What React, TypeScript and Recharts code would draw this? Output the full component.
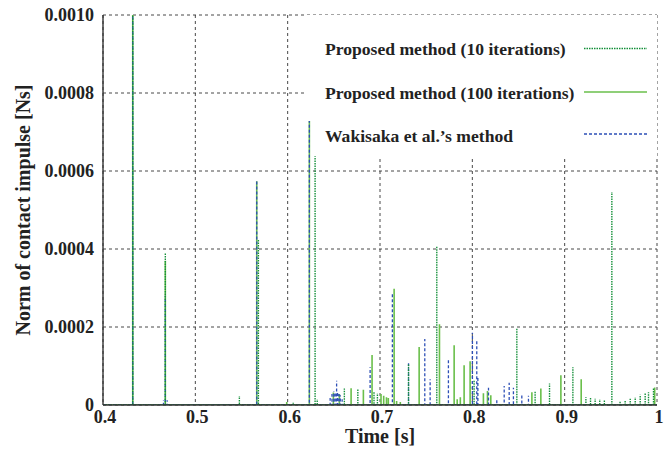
import { CartesianGrid, Line, LineChart, ReferenceArea, XAxis, YAxis } from "recharts";

const FONT = '"Liberation Serif", "Times New Roman", serif';
const INK = "#222";

const xTicks = [0.4, 0.5, 0.6, 0.7, 0.8, 0.9, 1];
const yTicks = [0, 0.0002, 0.0004, 0.0006, 0.0008, 0.001];

const legendLabels = [
  "Proposed method (10 iterations)",
  "Proposed method (100 iterations)",
  "Wakisaka et al.\u2019s method",
];

// Proposed method, 10 iterations (impulse times [s] / norms [Ns])
const iter10Times = [
  0.4322, 0.4675, 0.5477, 0.5683, 0.606, 0.6297, 0.632, 0.6614, 0.676, 0.6935,
  0.6972, 0.7309, 0.7615, 0.8019, 0.8482, 0.868, 0.8836, 0.9089, 0.923, 0.928,
  0.933, 0.938, 0.943, 0.9511, 0.96, 0.9655, 0.971, 0.9764, 0.9818, 0.9872,
  0.9908, 0.9962,
];
const iter10Values = [
  0.0012, 0.00039, 0.000023, 0.000425, 0.000008, 0.000638, 0.000015, 0.000042,
  0.00004, 0.000033, 0.00003, 0.000105, 0.000408, 0.000062, 0.000198, 0.000036,
  0.000055, 0.000097, 0.00002, 0.000018, 0.000016, 0.000015, 0.000012, 0.000546,
  0.0000085, 0.000012, 0.000016, 0.00002, 0.000026, 0.000031, 0.000033, 0.000043,
];

// Proposed method, 100 iterations
const iter100Times = [
  0.4322, 0.4675, 0.5665, 0.599, 0.6235, 0.6495, 0.656, 0.6687, 0.682, 0.6914,
  0.7011, 0.704, 0.707, 0.709, 0.7153, 0.718, 0.722, 0.7424, 0.7644, 0.7803,
  0.7836, 0.787, 0.7911, 0.7976, 0.812, 0.8164, 0.82, 0.8645, 0.8742, 0.8959,
  0.9179, 0.9975,
];
const iter100Values = [
  0.0012, 0.00037, 0.000574, 0.000008, 0.000728, 0.000032, 0.000028, 0.000043,
  0.000039, 0.000128, 0.000028, 0.000024, 0.00002, 0.000018, 0.000298, 0.00001,
  0.000008, 0.000149, 0.000207, 0.000153, 0.000015, 0.00002, 0.000102, 0.000112,
  0.00003, 0.000036, 0.000025, 0.000033, 0.000042, 0.000076, 0.000066, 0.000045,
];

// Wakisaka et al.'s method
const wakisakaTimes = [
  0.4322, 0.4655, 0.4675, 0.4695, 0.5665, 0.6235, 0.646, 0.648, 0.65, 0.6515,
  0.653, 0.654, 0.6555, 0.657, 0.659, 0.6893, 0.7134, 0.7309, 0.7485, 0.7543,
  0.7741, 0.8001, 0.8048, 0.806, 0.8175, 0.8265, 0.8345, 0.8399, 0.8445, 0.8536,
  0.8608,
];
const wakisakaValues = [
  0.0012, 0.000012, 0.00028, 0.000012, 0.000574, 0.000728, 0.000018, 0.000028,
  0.000035, 0.00003, 0.000062, 0.000032, 0.000028, 0.000025, 0.000015, 0.000097,
  0.000284, 0.00011, 0.000169, 0.000066, 0.000117, 0.000185, 0.000165, 0.00007,
  0.000044, 0.000015, 0.000049, 0.000057, 0.000044, 0.000028, 0.000024,
];

// opaque key box (gnuplot style) hides the grid behind the legend
const KEY_BOX = { t0: 0.619, t1: 1, v0: 0.000633, v1: 0.001 };

interface Pt {
  t: number;
  v: number | null;
}

/**
 * Each impulse is a vertical stroke rising from the zero baseline. A null
 * after the peak lifts the pen so the stroke isn't retraced on the way down
 * (retracing would fill in the dash pattern).
 */
function impulses(times: number[], values: number[]): Pt[] {
  const pts: Pt[] = [{ t: 0.4, v: 0 }];
  times.forEach((t, i) => {
    pts.push({ t, v: 0 }, { t, v: values[i] }, { t, v: null }, { t, v: 0 });
  });
  pts.push({ t: 1, v: 0 });
  return pts;
}

const iter10Data = impulses(iter10Times, iter10Values);
const iter100Data = impulses(iter100Times, iter100Values);
const wakisakaData = impulses(wakisakaTimes, wakisakaValues);

const STYLES = [
  { stroke: "#15903a", dash: "1.5 1", width: 1.4 },
  { stroke: "#6abf4b", dash: undefined, width: 1.6 },
  { stroke: "#2d4fb6", dash: "3 2", width: 1.3 },
];

const TICK = { fill: INK, fontSize: 18, fontWeight: 700, fontFamily: FONT } as const;
const TITLE = { fill: INK, fontSize: 20, fontWeight: 700, fontFamily: FONT } as const;

function XTitle(props: any) {
  const { x, y, width } = props.viewBox;
  return (
    <text x={x + width / 2} y={y + 38} textAnchor="middle" {...TITLE}>
      Time [s]
    </text>
  );
}

function YTitle(props: any) {
  const { y, height } = props.viewBox;
  const cx = 30;
  const cy = y + height / 2;
  return (
    <text x={cx} y={cy} textAnchor="middle" transform={`rotate(-90 ${cx} ${cy})`} {...TITLE}>
      Norm of contact impulse [Ns]
    </text>
  );
}

function Key() {
  const rows = [55, 99, 142];
  const lineY = [48.5, 92, 134];
  return (
    <svg
      width={670}
      height={450}
      style={{ position: "absolute", left: 0, top: 0, pointerEvents: "none" }}
    >
      {legendLabels.map((label, i) => (
        <g key={label}>
          <text x={325} y={rows[i]} fill={INK} fontSize={17.6} fontWeight={700} fontFamily={FONT}>
            {label}
          </text>
          <line
            x1={584}
            x2={647}
            y1={lineY[i]}
            y2={lineY[i]}
            stroke={STYLES[i].stroke}
            strokeWidth={STYLES[i].width}
            strokeDasharray={STYLES[i].dash}
          />
        </g>
      ))}
    </svg>
  );
}

export default function App() {
  return (
    <div style={{ position: "absolute", left: 0, top: 0, width: 670, height: 450, background: "#fff" }}>
      <LineChart width={670} height={450} margin={{ top: 15, right: 13, bottom: 0, left: 0 }}>
        <CartesianGrid stroke="#333" strokeWidth={0.9} strokeDasharray="3 3" />
        <ReferenceArea
          x1={KEY_BOX.t0}
          x2={KEY_BOX.t1}
          y1={KEY_BOX.v0}
          y2={KEY_BOX.v1}
          fill="#fff"
          fillOpacity={1}
          stroke="none"
        />
        <XAxis
          dataKey="t"
          type="number"
          domain={[0.4, 1]}
          ticks={xTicks}
          allowDataOverflow
          height={45}
          tick={{ ...TICK, dx: 2 }}
          tickFormatter={(v: number) => (v === 1 ? "1" : v.toFixed(1))}
          tickLine={false}
          tickSize={4}
          tickMargin={1}
          axisLine={{ stroke: "#333", strokeWidth: 1.4 }}
          label={XTitle}
        />
        <XAxis
          xAxisId="top"
          orientation="top"
          type="number"
          domain={[0.4, 1]}
          ticks={xTicks}
          height={0}
          mirror
          tickSize={5}
          tick={TICK}
          tickFormatter={() => ""}
          tickLine={{ stroke: "#333" }}
          axisLine={{ stroke: "#333", strokeWidth: 1.4 }}
        />
        <YAxis
          type="number"
          domain={[0, 0.001]}
          ticks={yTicks}
          allowDataOverflow
          width={103}
          tick={TICK}
          tickFormatter={(v: number) => (v === 0 ? "0" : v.toFixed(4))}
          tickLine={false}
          tickSize={6}
          tickMargin={3}
          axisLine={{ stroke: "#333", strokeWidth: 1.4 }}
          label={YTitle}
        />
        <YAxis
          yAxisId="right"
          orientation="right"
          type="number"
          domain={[0, 0.001]}
          ticks={yTicks}
          width={0}
          mirror
          tickSize={5}
          tick={TICK}
          tickFormatter={() => ""}
          tickLine={{ stroke: "#333" }}
          axisLine={{ stroke: "#333", strokeWidth: 1.4 }}
        />
        <Line
          data={iter100Data}
          dataKey="v"
          type="linear"
          stroke={STYLES[1].stroke}
          strokeWidth={STYLES[1].width}
          dot={false}
          activeDot={false}
          isAnimationActive={false}
        />
        <Line
          data={wakisakaData}
          dataKey="v"
          type="linear"
          stroke={STYLES[2].stroke}
          strokeWidth={STYLES[2].width}
          strokeDasharray={STYLES[2].dash}
          dot={false}
          activeDot={false}
          isAnimationActive={false}
        />
        <Line
          data={iter10Data}
          dataKey="v"
          type="linear"
          stroke={STYLES[0].stroke}
          strokeWidth={STYLES[0].width}
          strokeDasharray={STYLES[0].dash}
          dot={false}
          activeDot={false}
          isAnimationActive={false}
        />
      </LineChart>
      <Key />
    </div>
  );
}
